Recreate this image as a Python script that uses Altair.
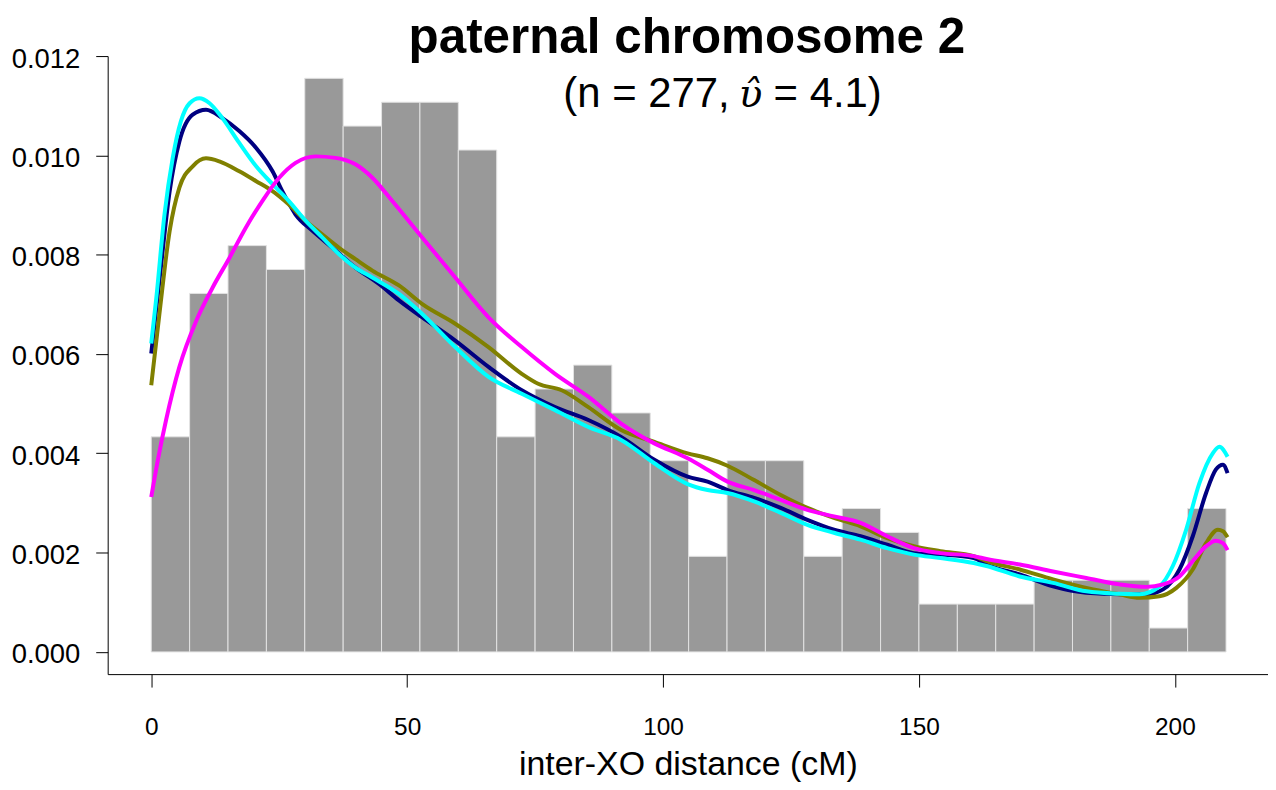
import altair as alt
import pandas as pd

# ---------------- data ----------------
bin_left = [0, 7.5, 15, 22.5, 30, 37.5, 45, 52.5, 60, 67.5, 75, 82.5, 90, 97.5,
            105, 112.5, 120, 127.5, 135, 142.5, 150, 157.5, 165, 172.5, 180, 187.5, 195, 202.5]
bin_right = [7.5, 15, 22.5, 30, 37.5, 45, 52.5, 60, 67.5, 75, 82.5, 90, 97.5, 105,
             112.5, 120, 127.5, 135, 142.5, 150, 157.5, 165, 172.5, 180, 187.5, 195, 202.5, 210]
density = [0.004332, 0.007220, 0.008183, 0.007702, 0.011552, 0.010590, 0.011071, 0.011071,
           0.010108, 0.004332, 0.005295, 0.005776, 0.004813, 0.003851, 0.001925, 0.003851,
           0.003851, 0.001925, 0.002888, 0.002407, 0.000963, 0.000963, 0.000963, 0.001444,
           0.001444, 0.001444, 0.000481, 0.002888]

navy_x = [0, 1.6, 3.6, 5.5, 8.1, 10.7, 13.9, 17.2, 20.5, 23.7, 25.6, 28.2, 31.5, 35.4, 39.9, 44.5,
          48.4, 52.9, 59.4, 65.9, 72.4, 78.9, 85.4, 91.8, 98.3, 104.8, 108.7, 112.6, 117.8, 123.0,
          128.2, 133.4, 138.6, 143.8, 149.0, 154.2, 160.7, 163.2, 169.7, 176.2, 182.7, 189.2, 194.4,
          197.7, 200.9, 203.5, 206.1, 208.0, 209.4, 210.3]
navy_y = [0.00601, 0.00748, 0.00928, 0.01028, 0.01082, 0.01092, 0.01075, 0.01049, 0.01015, 0.00968,
          0.00928, 0.00881, 0.00848, 0.00814, 0.00774, 0.00741, 0.00708, 0.00674, 0.00627, 0.00574,
          0.00527, 0.00493, 0.00467, 0.00433, 0.00387, 0.00353, 0.00343, 0.00326, 0.00310, 0.00290,
          0.00266, 0.00246, 0.00233, 0.00216, 0.00199, 0.00196, 0.00189, 0.00176, 0.00156, 0.00132,
          0.00119, 0.00116, 0.00116, 0.00126, 0.00166, 0.00233, 0.00320, 0.00367, 0.00377, 0.00360]

olive_x = [0, 1.6, 3.6, 5.5, 8.1, 10.7, 13.3, 17.2, 20.5, 23.7, 26.9, 30.2, 33.4, 36.7, 39.9, 43.2,
           48.4, 52.9, 59.4, 65.9, 72.4, 75.6, 80.2, 85.4, 91.8, 98.3, 104.8, 108.7, 112.6, 117.8,
           123.0, 128.2, 133.4, 138.6, 143.8, 149.0, 154.2, 160.7, 163.2, 169.7, 176.2, 182.7, 189.2,
           193.1, 197.0, 200.3, 203.5, 206.1, 208.4, 209.4, 210.3]
olive_y = [0.00537, 0.00681, 0.00848, 0.00935, 0.00978, 0.00994, 0.00988, 0.00968, 0.00948, 0.00928,
           0.00901, 0.00868, 0.00841, 0.00814, 0.00791, 0.00768, 0.00738, 0.00701, 0.00661, 0.00614,
           0.00560, 0.00540, 0.00527, 0.00493, 0.00447, 0.00423, 0.00400, 0.00390, 0.00375, 0.00346,
           0.00316, 0.00290, 0.00270, 0.00253, 0.00229, 0.00213, 0.00203, 0.00193, 0.00183, 0.00166,
           0.00146, 0.00129, 0.00116, 0.00109, 0.00112, 0.00129, 0.00166, 0.00219, 0.00246, 0.00243,
           0.00231]

cyan_x = [0, 1.0, 2.6, 4.2, 5.8, 7.5, 9.4, 11.4, 13.9, 17.2, 20.5, 23.7, 26.9, 30.2, 33.4, 36.7,
          39.9, 43.2, 48.4, 52.9, 59.4, 65.9, 72.4, 78.9, 85.4, 91.8, 98.3, 104.8, 108.7, 112.6,
          117.8, 123.0, 128.2, 133.4, 138.6, 143.8, 149.0, 154.2, 160.7, 163.2, 169.7, 176.2, 182.7,
          189.2, 193.1, 197.0, 199.6, 202.2, 204.8, 207.4, 208.7, 210.3]
cyan_y = [0.00621, 0.00714, 0.00882, 0.00995, 0.01069, 0.01105, 0.01115, 0.01105, 0.01075, 0.01025,
          0.00978, 0.00942, 0.00908, 0.00868, 0.00835, 0.00801, 0.00774, 0.00754, 0.00721, 0.00681,
          0.00614, 0.00554, 0.00520, 0.00487, 0.00453, 0.00427, 0.00380, 0.00338, 0.00326, 0.00320,
          0.00303, 0.00280, 0.00256, 0.00240, 0.00226, 0.00209, 0.00196, 0.00189, 0.00179, 0.00173,
          0.00152, 0.00139, 0.00122, 0.00117, 0.00116, 0.00132, 0.00173, 0.00246, 0.00340, 0.00400,
          0.00413, 0.00393]

magenta_x = [0, 1.3, 2.9, 5.5, 8.8, 12.0, 15.3, 18.5, 21.7, 25.0, 28.2, 32.1, 36.0, 39.9, 43.2, 47.1,
             52.9, 59.4, 65.9, 72.4, 78.9, 85.4, 91.8, 98.3, 104.8, 108.7, 112.6, 117.8, 123.0, 128.2,
             133.4, 138.6, 143.8, 149.0, 154.2, 160.7, 163.2, 169.7, 176.2, 182.7, 189.2, 194.4, 197.7,
             200.9, 203.5, 206.1, 208.0, 209.4, 210.3]
magenta_y = [0.00312, 0.00387, 0.00467, 0.00574, 0.00667, 0.00734, 0.00794, 0.00855, 0.00908, 0.00955,
             0.00985, 0.00998, 0.00995, 0.00982, 0.00955, 0.00908, 0.00835, 0.00754, 0.00674, 0.00614,
             0.00560, 0.00514, 0.00460, 0.00420, 0.00390, 0.00367, 0.00343, 0.00326, 0.00306, 0.00286,
             0.00273, 0.00260, 0.00233, 0.00209, 0.00199, 0.00193, 0.00187, 0.00176, 0.00162, 0.00149,
             0.00136, 0.00131, 0.00136, 0.00152, 0.00183, 0.00213, 0.00224, 0.00219, 0.00205]

x_ticks = [0, 50, 100, 150, 200]
y_ticks = [0.0, 0.002, 0.004, 0.006, 0.008, 0.010, 0.012]
title_text = "paternal chromosome 2"
subtitle_left = "(n = 277,"
subtitle_symbol = "\u03c5\u0302"
subtitle_right = "= 4.1)"
x_title = "inter-XO distance (cM)"

# ---------------- chart ----------------
FONT = "Liberation Sans"
W, H = 1164, 620
x_dom = [-8.51, 218.2]
y_dom = [-0.000447, 0.012]

xs = alt.Scale(domain=x_dom, nice=False, zero=False)
ys = alt.Scale(domain=y_dom, nice=False, zero=False)

bars_df = pd.DataFrame({"x0": bin_left, "x1": bin_right, "d": density, "z": [0.0] * len(density)})
bars = alt.Chart(bars_df).mark_rect(color="#999999", stroke="#e3e3e3", strokeWidth=1).encode(
    x=alt.X("x0:Q", scale=xs, axis=alt.Axis(
        values=x_ticks, title=x_title, tickSize=13, labelPadding=29, labelFontSize=24.5,
        titleFontSize=34, titleFontWeight="normal", titleBaseline="alphabetic", titleY=101,
        labelFlush=False)),
    x2="x1:Q",
    y=alt.Y("z:Q", scale=ys, axis=alt.Axis(
        values=y_ticks, format=".3f", title=None, tickSize=12, labelPadding=16,
        labelFontSize=27.5, labelFlush=False, labelOffset=3)),
    y2="d:Q",
)

def curve(xv, yv, color):
    df = pd.DataFrame({"x": xv, "y": yv})
    return alt.Chart(df).mark_line(color=color, strokeWidth=4, interpolate="monotone").encode(
        x=alt.X("x:Q", scale=xs),
        y=alt.Y("y:Q", scale=ys),
    )

lines = [curve(navy_x, navy_y, "#000080"),
         curve(olive_x, olive_y, "#808000"),
         curve(cyan_x, cyan_y, "#00FFFF"),
         curve(magenta_x, magenta_y, "#FF00FF")]

def label(text, x, y, size, align="center", weight="normal", font=FONT, style="normal"):
    return alt.Chart(pd.DataFrame({"t": [text]})).mark_text(
        font=font, fontSize=size, fontWeight=weight, fontStyle=style, align=align,
        baseline="alphabetic", color="black"
    ).encode(x=alt.value(x), y=alt.value(y), text="t:N")

title = label(title_text, 581, -3, 49.5, weight="bold")
sub1 = label(subtitle_left, 624, 51, 42, align="right")
sub2 = label(subtitle_symbol, 645, 51, 39, font="DejaVu Serif", style="italic")
sub3 = label(subtitle_right, 668, 51, 42, align="left")

chart = alt.layer(bars, *lines, title, sub1, sub2, sub3).properties(
    width=W, height=H,
    autosize=alt.AutoSizeParams(type="none"),
    padding={"left": 100, "top": 47, "right": 0, "bottom": 107},
).configure_view(stroke=None).configure_axis(
    grid=False, domainColor="black", tickColor="black", labelColor="black", titleColor="black",
    labelFont=FONT, titleFont=FONT, domainWidth=1, tickWidth=1,
)

chart.save("out.html", embed_options={"renderer": "svg", "actions": False})
